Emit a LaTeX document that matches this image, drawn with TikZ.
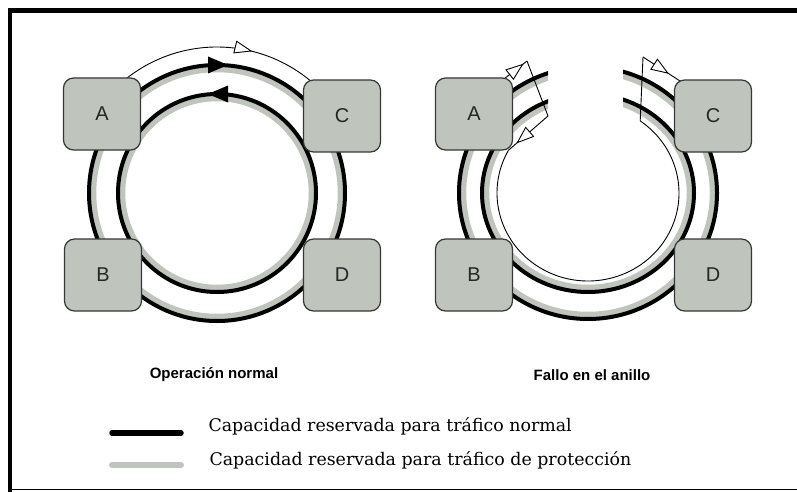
\documentclass[tikz,border=0pt]{standalone}
\usepackage{fontspec}
\setmainfont{DejaVu Serif}
\newfontfamily\labelfont{Liberation Sans}
\usetikzlibrary{arrows.meta,decorations.markings,calc}
\definecolor{protgray}{RGB}{191,196,189}
\definecolor{boxgray}{RGB}{191,196,189}
\definecolor{boxedge}{RGB}{55,55,55}
\begin{document}
\begin{tikzpicture}[x=1pt,y=1pt,
  nodebox/.style={draw=boxedge, line width=1.2pt, fill=boxgray, rounded corners=10pt,
    minimum width=77pt, minimum height=72pt, inner sep=0pt,
    font=\labelfont\fontsize{20}{20}\selectfont, text=black!85},
  normline/.style={line width=4pt, black},
  protline/.style={line width=5.5pt, protgray},
  thinline/.style={line width=0.9pt, black},
  openarrow/.style={postaction={decorate}, decoration={markings,
    mark=at position #1 with {\arrow{Triangle[fill=white, length=18pt, width=13pt, line width=0.9pt]}}}},
  capt/.style={font=\labelfont\bfseries\fontsize{15}{15}\selectfont},
  legtext/.style={anchor=base west, font=\fontsize{17.4}{17.4}\selectfont}
]
\useasboundingbox (0,0) rectangle (797,-492);
% frame
\draw[line width=4.5pt] (10,-492) -- (10,-10.5) -- (797,-10.5);
\draw[line width=1pt] (8,-489.5) -- (797,-489.5);

% ---------- left: normal operation ----------
\coordinate (cL) at (217,-193);
\draw[protline] (cL) circle (123.5);
\draw[normline] (cL) circle (128);
\draw[protline] (cL) circle (94.5);
\draw[normline] (cL) circle (99);
\draw[thinline, openarrow=0.64] ($(cL)+(140:146)$) arc[start angle=140, end angle=40, radius=146];
\fill (228,-65) -- (208,-56.5) -- (208,-73.5) -- cycle;
\fill (208,-94) -- (228,-85.5) -- (228,-102.5) -- cycle;

\node[nodebox] (A1) at (102,-114) {A};
\node[nodebox] (C1) at (342,-116) {C};
\node[nodebox] (B1) at (103,-275) {B};
\node[nodebox] (D1) at (342,-275) {D};

% ---------- right: ring failure ----------
\coordinate (cR) at (588,-193);
\begin{scope}
  \clip (400,0) -- (548,0) -- (548,-140) -- (623,-140) -- (623,0) -- (797,0) -- (797,-400) -- (400,-400) -- cycle;
  \draw[protline] (cR) ellipse [x radius=124.5, y radius=121.5];
  \draw[normline] (cR) ellipse [x radius=129, y radius=126];
  \draw[protline] (cR) ellipse [x radius=101.5, y radius=94.5];
  \draw[normline] (cR) ellipse [x radius=106, y radius=99];
\end{scope}
\coordinate (p0) at (504,-79);
\coordinate (p1) at (527,-61);
\coordinate (p2) at (548,-116);
\coordinate (p3) at ($(cR)+(151:91 and 88)$);
\coordinate (p4) at ($(cR)+(55:91 and 88)$);
\coordinate (p5) at (643,-57);
\coordinate (p6) at (680,-81);
\draw[thinline, openarrow=0.85] (p0) -- (p1);
\draw[thinline] (p1) -- (p2);
\draw[thinline, openarrow=0.8] (p2) -- (p3);
\draw[thinline] (p3) arc[start angle=151, end angle=415, x radius=91, y radius=88];
\draw[thinline] (p4) -- (p5);
\draw[thinline, openarrow=0.7] (p5) -- (p6);

\node[nodebox] (A2) at (474,-114) {A};
\node[nodebox] (C2) at (713,-116) {C};
\node[nodebox] (B2) at (474,-275) {B};
\node[nodebox] (D2) at (713,-275) {D};

% ---------- captions ----------
\node[capt] (t1) at (214,-375) {Operación normal};
\node[capt] (t2) at (592,-375) {Fallo en el anillo};

% ---------- legend ----------
\coordinate (l1a) at (112,-433);
\coordinate (l1b) at (181,-433);
\coordinate (l2a) at (112,-465);
\coordinate (l2b) at (181,-465);
\draw[line width=5.5pt, line cap=round] (l1a) -- (l1b);
\draw[line width=6pt, line cap=round, protgray] (l2a) -- (l2b);
\node[legtext] (g1) at (205,-431) {Capacidad reservada para tráfico normal};
\node[legtext] (g2) at (206,-465.5) {Capacidad reservada para tráfico de protección};
\end{tikzpicture}
\end{document}
